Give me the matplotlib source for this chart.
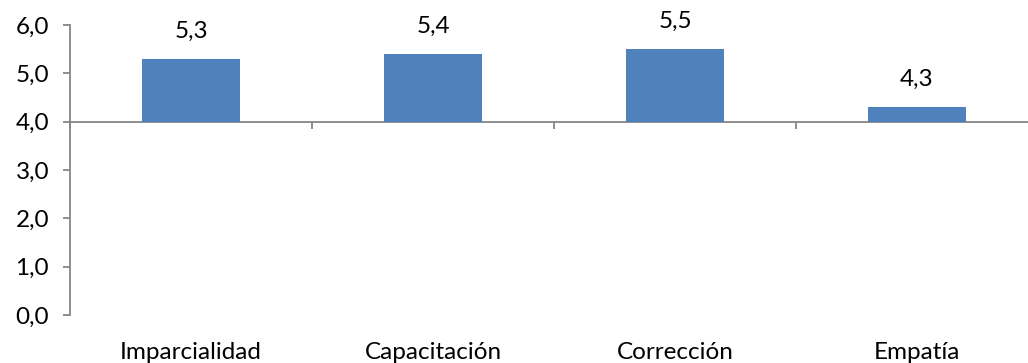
import matplotlib
matplotlib.use("Agg")
import matplotlib.pyplot as plt
import numpy as np

categories = ["Imparcialidad", "Capacitación", "Corrección", "Empatía"]
values = [5.3, 5.4, 5.5, 4.3]
y_ticks = [0.0, 1.0, 2.0, 3.0, 4.0, 5.0, 6.0]
baseline = 4.0

plt.rcParams['font.family'] = ['Lato', 'DejaVu Sans']
FS = 17.5

fig = plt.figure(figsize=(10.28, 3.63), dpi=100)
ax = fig.add_axes([70 / 1028, 1 - 315 / 363, 968 / 1028, 290 / 363])

axis_color = "#868686"
bar_color = "#4f81bd"

x = np.arange(len(categories))
vals = np.array(values)
ax.bar(x, vals - baseline, bottom=baseline, width=0.405, color=bar_color, zorder=3)

def fmt(v):
    return f"{v:.1f}".replace(".", ",")

for xi, v in zip(x, vals):
    ax.annotate(fmt(v), (xi, v), xytext=(0, 20), textcoords="offset points",
                ha="center", va="center", fontsize=FS, color="black")

ax.set_xlim(-0.5, len(categories) - 0.5)
ax.set_ylim(0, 6)
ax.set_yticks(y_ticks)
ax.set_yticklabels([fmt(t) for t in y_ticks], fontsize=FS)

# category axis crosses the value axis at the baseline
ax.spines["bottom"].set_position(("data", baseline))
ax.spines["top"].set_visible(False)
ax.spines["right"].set_visible(False)
for s in ("left", "bottom"):
    ax.spines[s].set_color(axis_color)
    ax.spines[s].set_linewidth(1.3)

ax.set_xticks(np.arange(len(categories) + 1) - 0.5)
ax.set_xticklabels([])
ax.tick_params(axis="x", direction="out", length=5, width=1.3, color=axis_color)
ax.tick_params(axis="y", direction="out", length=5, width=1.3, color=axis_color, pad=10)

for xi, c in zip(x, categories):
    ax.annotate(c, (xi, 0), xytext=(0, -27), textcoords="offset points",
                ha="center", va="center", fontsize=FS, color="black",
                annotation_clip=False)

fig.savefig("out.png", dpi=100)
